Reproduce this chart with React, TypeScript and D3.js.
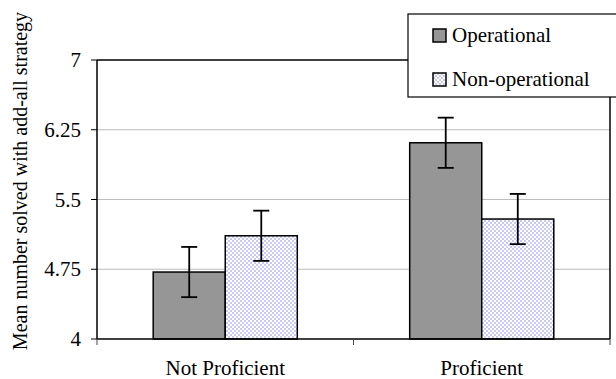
import React from "react";
import * as d3 from "d3";

const categories = ["Not Proficient", "Proficient"];
const seriesNames = ["Operational", "Non-operational"];
const operational = [4.72, 6.11];
const nonOperational = [5.11, 5.29];
const operationalErr = [0.27, 0.27];
const nonOperationalErr = [0.27, 0.27];
const yTicks = [4, 4.75, 5.5, 6.25, 7];

const W = 616;
const H = 379;
const margin = { top: 60, right: 6, bottom: 40, left: 97 };
const serif = { fontFamily: "'Liberation Serif', 'Times New Roman', serif" };

const App = () => {
  const x = d3
    .scaleBand<string>()
    .domain(categories)
    .range([margin.left, W - margin.right])
    .paddingInner(0)
    .paddingOuter(0);
  const y = d3.scaleLinear().domain([4, 7]).range([H - margin.bottom, margin.top]);
  const inner = d3
    .scaleBand<number>()
    .domain([0, 1])
    .range([0, x.bandwidth()])
    .paddingInner(0)
    .paddingOuter(0.78);

  const series = [
    { name: seriesNames[0], values: operational, errs: operationalErr, fill: "#969696" },
    { name: seriesNames[1], values: nonOperational, errs: nonOperationalErr, fill: "url(#checker)" },
  ];

  const x0 = margin.left;
  const x1 = W - margin.right;
  const yb = y(4);

  return (
    <svg width={W} height={H} style={{ position: "absolute", left: 0, top: 0 }}>
      <defs>
        <pattern id="checker" width={4} height={4} patternUnits="userSpaceOnUse">
          <rect width={4} height={4} fill="#ffffff" />
          <rect width={2} height={2} fill="#c9c9f7" />
          <rect x={2} y={2} width={2} height={2} fill="#c9c9f7" />
        </pattern>
      </defs>
      <rect width={W} height={H} fill="#fff" />

      {/* gridlines */}
      {yTicks.slice(1, -1).map((t) => (
        <line key={t} x1={x0} x2={x1} y1={y(t)} y2={y(t)} stroke="#bdbdbd" strokeWidth={1.2} />
      ))}

      {/* plot frame */}
      <line x1={x0} x2={x1} y1={y(7)} y2={y(7)} stroke="#000" strokeWidth={1.5} />
      <line x1={x1} x2={x1} y1={y(7)} y2={yb} stroke="#000" strokeWidth={1.5} />

      {/* bars */}
      {series.map((s, si) =>
        categories.map((c, ci) => {
          const bx = (x(c) as number) + (inner(si) as number);
          const by = y(s.values[ci]);
          return (
            <rect
              key={s.name + c}
              x={bx}
              y={by}
              width={inner.bandwidth()}
              height={yb - by}
              fill={s.fill}
              stroke="#000"
              strokeWidth={1.5}
            />
          );
        })
      )}

      {/* error bars */}
      {series.map((s, si) =>
        categories.map((c, ci) => {
          const cx = (x(c) as number) + (inner(si) as number) + inner.bandwidth() / 2;
          const hi = y(s.values[ci] + s.errs[ci]);
          const lo = y(s.values[ci] - s.errs[ci]);
          return (
            <g key={"e" + s.name + c} stroke="#000" strokeWidth={1.8}>
              <line x1={cx} x2={cx} y1={hi} y2={lo} />
              <line x1={cx - 8} x2={cx + 8} y1={hi} y2={hi} />
              <line x1={cx - 8} x2={cx + 8} y1={lo} y2={lo} />
            </g>
          );
        })
      )}

      {/* axes */}
      <line x1={x0} x2={x0} y1={y(7)} y2={yb} stroke="#000" strokeWidth={1.5} />
      <line x1={x0} x2={x1} y1={yb} y2={yb} stroke="#000" strokeWidth={1.5} />
      {yTicks.map((t) => (
        <g key={"t" + t}>
          <line x1={x0 - 6} x2={x0} y1={y(t)} y2={y(t)} stroke="#000" strokeWidth={1} />
          <text x={x0 - 16} y={y(t)} dy="0.34em" textAnchor="end" fontSize={21} style={serif}>
            {t}
          </text>
        </g>
      ))}
      {[x0, x0 + x.bandwidth(), x1].map((tx, i) => (
        <line key={"xt" + i} x1={tx} x2={tx} y1={yb} y2={yb + 6} stroke="#444" strokeWidth={1} />
      ))}
      {categories.map((c) => (
        <text
          key={"c" + c}
          x={(x(c) as number) + x.bandwidth() / 2}
          y={375}
          textAnchor="middle"
          fontSize={21}
          style={serif}
        >
          {c}
        </text>
      ))}

      <text
        transform={`translate(27,181) rotate(-90)`}
        textAnchor="middle"
        fontSize={20}
        style={serif}
      >
        Mean number solved with add-all strategy
      </text>

      {/* legend */}
      <rect x={408} y={14} width={240} height={83} fill="#fff" stroke="#000" strokeWidth={1.2} />
      {series.map((s, i) => (
        <g key={"l" + s.name} transform={`translate(433,${29 + i * 44})`}>
          <rect width={13} height={13} fill={s.fill} stroke="#000" strokeWidth={1.5} />
          <text x={19} y={13} fontSize={21} style={serif}>
            {s.name}
          </text>
        </g>
      ))}
    </svg>
  );
};

export default App;
